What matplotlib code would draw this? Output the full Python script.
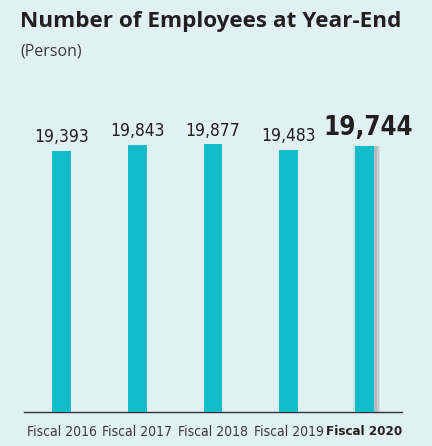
import matplotlib
matplotlib.use("Agg")
import matplotlib.pyplot as plt
import matplotlib.patheffects as pe

years = ["Fiscal 2016", "Fiscal 2017", "Fiscal 2018", "Fiscal 2019", "Fiscal 2020"]
employees = [19393, 19843, 19877, 19483, 19744]

bg = "#e0f1f4"
bar_col = "#12bccb"
ink = "#231f20"
cond = dict(family="DejaVu Sans", fontstretch="condensed")

fig = plt.figure(figsize=(4.32, 4.46), dpi=100, facecolor=bg)
ax = fig.add_axes([24/432, 34/446, 378/432, 312/446])
ax.set_facecolor(bg)

xs = list(range(len(years)))
bars = ax.bar(xs, employees, width=0.25, color=bar_col, zorder=3)
# soft grey shadow behind the latest year
shadow = [pe.SimplePatchShadow(offset=(d, 0), shadow_rgbFace="#7a7a7a", alpha=a)
          for d, a in [(4.5, 0.12), (3.5, 0.18), (2.5, 0.22), (-1, 0.12)]]
bars[-1].set_path_effects(shadow + [pe.Normal()])

ax.set_xlim(-0.5, 4.5)
ax.set_ylim(0, 23180)

for i, v in enumerate(employees):
    last = i == len(employees) - 1
    ax.annotate(f"{v:,}", (i, v), xytext=(2.5 if last else 0, 3.5),
                textcoords="offset points", ha="center", va="bottom",
                fontsize=18.5 if last else 12.5, fontweight="bold" if last else "normal",
                color=ink, **cond)

for s in ["left", "right", "top"]:
    ax.spines[s].set_visible(False)
ax.spines["bottom"].set_color("#333333")
ax.spines["bottom"].set_linewidth(1.0)
ax.set_yticks([])
ax.set_xticks(xs)
ax.set_xticklabels(years, fontsize=10.0, color="#3a3a3a", **cond)
ax.tick_params(axis="x", length=0, pad=9.5)
ax.get_xticklabels()[-1].set_fontweight("bold")
ax.get_xticklabels()[-1].set_fontsize(9.5)
ax.get_xticklabels()[-1].set_color(ink)

fig.text(20/432, 1 - 22/446, "Number of Employees at Year-End", fontsize=16.2,
         fontweight="bold", family="Open Sans", color=ink, va="center", ha="left")
fig.text(20/432, 1 - 51/446, "(Person)", fontsize=11.5, family="Open Sans",
         color="#3a3a3a", va="center", ha="left")

fig.savefig("out.png", dpi=100, facecolor=bg)
